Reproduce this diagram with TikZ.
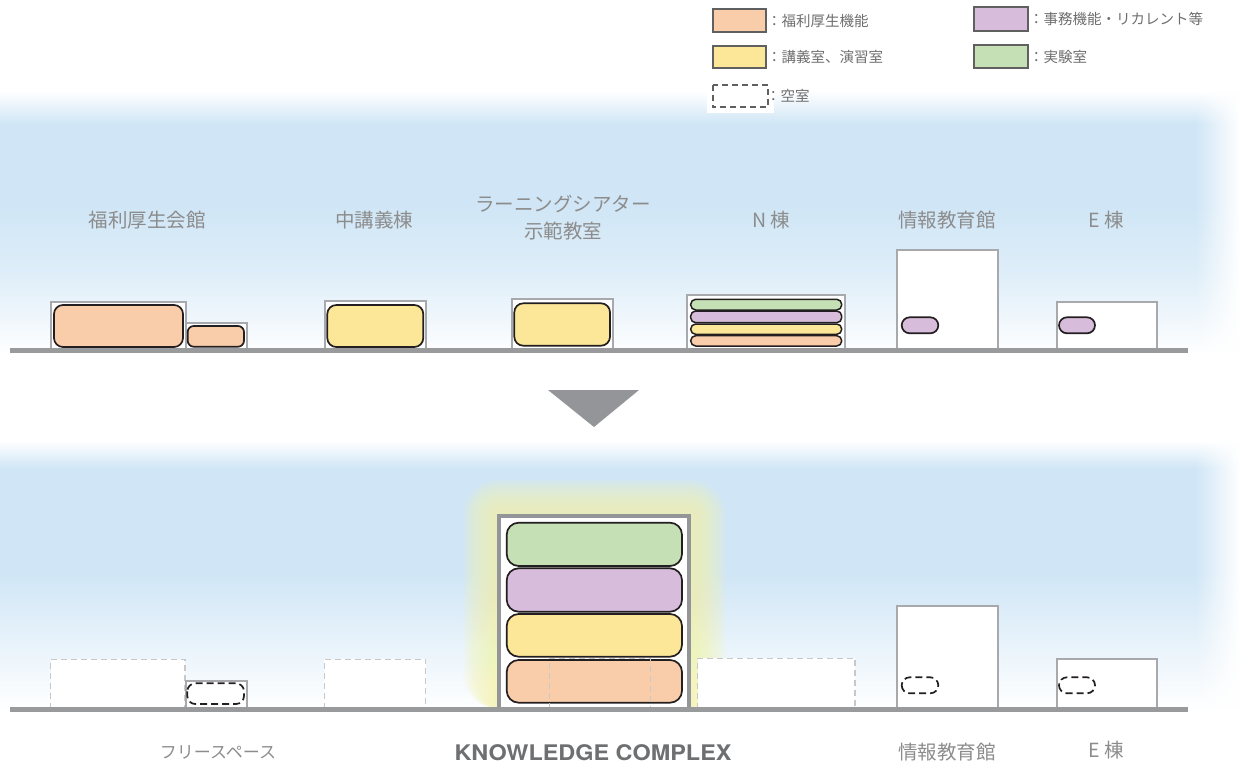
\documentclass[tikz,border=0pt]{standalone}
\usepackage{fontspec}
\newfontfamily\jp{Noto Sans CJK JP}
\newfontfamily\lat{TeX Gyre Heros}
\usetikzlibrary{fadings}
\definecolor{sky}{RGB}{208,230,246}
\definecolor{cOrange}{RGB}{249,204,170}
\definecolor{cYellow}{RGB}{252,230,151}
\definecolor{cPurple}{RGB}{215,189,219}
\definecolor{cGreen}{RGB}{197,224,181}
\definecolor{ink}{RGB}{35,31,32}
\definecolor{bgray}{RGB}{167,169,172}
\definecolor{ggray}{RGB}{153,154,156}
\definecolor{lgray}{RGB}{200,200,200}
\definecolor{tgray}{RGB}{140,140,140}
\definecolor{lgtext}{RGB}{110,110,110}
\definecolor{swgray}{RGB}{96,96,96}
\definecolor{glow}{RGB}{246,244,170}
\definecolor{kgray}{RGB}{147,149,152}
\definecolor{ktext}{RGB}{110,111,113}
\pgfdeclareverticalshading{skyA}{100bp}{color(0bp)=(white); color(25bp)=(white); color(30bp)=(sky!25); color(40bp)=(sky!70); color(52bp)=(sky); color(67bp)=(sky); color(73bp)=(white); color(100bp)=(white)}
\pgfdeclareverticalshading{skyB}{100bp}{color(0bp)=(white); color(25bp)=(white); color(29bp)=(sky!15); color(40bp)=(sky!60); color(50bp)=(sky); color(69bp)=(sky); color(74bp)=(white); color(100bp)=(white)}
\tikzfading[name=fadeToRight, left color=transparent!100, right color=transparent!0]
\tikzset{
  bldg/.style={draw=bgray, line width=2pt, fill=white},
  room/.style={draw=ink, line width=1.7pt, rounded corners=9pt},
  strip/.style={draw=ink, line width=1.5pt, rounded corners=5pt},
  pill/.style={draw=ink, line width=1.7pt, rounded corners=8pt},
  emptypill/.style={draw=ink, line width=1.7pt, rounded corners=8pt, dash pattern=on 7pt off 4pt},
  ghost/.style={draw=lgray, line width=1.5pt, dash pattern=on 6pt off 4pt},
  ground/.style={draw=ggray, line width=5pt},
  kcbldg/.style={draw=kgray, line width=4pt},
  swatch/.style={draw=swgray, line width=2pt},
  lbl/.style={font=\jp\fontsize{19.5}{21}\selectfont, text=tgray, inner sep=0pt},
  leg/.style={font=\jp\fontsize{14.5}{16}\selectfont, text=lgtext, anchor=west, inner sep=0pt},
}
\begin{document}
\begin{tikzpicture}[x=1pt,y=-1pt]
\useasboundingbox (0,0) rectangle (1253,769);
% sky bands
\shade[shading=skyA] (0,80) rectangle (1253,355);
\shade[shading=skyB] (0,435) rectangle (1253,712);
\fill[white, path fading=fadeToRight] (1195,70) rectangle (1240,720);
\fill[white] (1239,70) rectangle (1253,720);
% legend
\fill[white] (707,80) rectangle (774,113);
\draw[swatch, fill=cOrange] (712.7,9.3) rectangle (765.7,32.3);
\node[leg] (l1) at (767,21) {：福利厚生機能};
\draw[swatch, fill=cYellow] (712.7,45.7) rectangle (765.7,68.3);
\node[leg] (l2) at (767,57) {：講義室、演習室};
\draw[swatch, dashed, dash pattern=on 6pt off 4pt] (712.7,85) rectangle (768,107.3);
\node[leg] (l3) at (766,96) {：空室};
\draw[swatch, fill=cPurple] (974.3,7) rectangle (1028.3,31);
\node[leg] (l4) at (1029,19) {：事務機能・リカレント等};
\draw[swatch, fill=cGreen] (974.3,45) rectangle (1028.3,68.3);
\node[leg] (l5) at (1029,57) {：実験室};
% top labels
\node[lbl] (t1) at (147,220) {福利厚生会館};
\node[lbl] (t2) at (374,220) {中講義棟};
\node[lbl] (t3) at (563,204) {ラーニングシアター};
\node[lbl] (t3b) at (563,231) {示範教室};
\node[lbl] (t4) at (771,220) {N\hspace{4pt}棟};
\node[lbl] (t5) at (947,220) {情報教育館};
\node[lbl] (t6) at (1106,220) {E\hspace{4pt}棟};
% top buildings
\draw[bldg] (50.7,302) rectangle (185.7,349);
\draw[bldg] (185.7,322.7) rectangle (246.7,349);
\draw[room, fill=cOrange] (54,305) rectangle (183,347);
\draw[room, fill=cOrange, rounded corners=6pt] (187.7,326) rectangle (244,346.7);
\draw[bldg] (325,301.3) rectangle (426,349);
\draw[room, fill=cYellow] (327.3,305) rectangle (423.3,347);
\draw[bldg] (511.7,299.3) rectangle (613.3,349);
\draw[room, fill=cYellow] (514.3,303.3) rectangle (610,345.7);
\draw[bldg] (687.3,295.3) rectangle (845,349);
\draw[strip, fill=cGreen] (690.7,299.3) rectangle (841.7,310);
\draw[strip, fill=cPurple] (690.7,311) rectangle (841.7,322.7);
\draw[strip, fill=cYellow] (690.7,324) rectangle (841.7,334.3);
\draw[strip, fill=cOrange] (690.7,335.7) rectangle (841.7,346);
\draw[bldg] (897.3,250) rectangle (997.7,349);
\draw[pill, fill=cPurple] (901.7,317.3) rectangle (938.3,333.3);
\draw[bldg] (1056.7,301.7) rectangle (1156.7,349);
\draw[pill, fill=cPurple] (1059,317.3) rectangle (1095,333.3);
\draw[ground] (10,350) -- (1188,350);
% arrow triangle
\fill[kgray] (548,390) -- (639,390) -- (594,427) -- cycle;
% bottom
\draw[ghost, fill=white] (50.7,709) -- (50.7,659.3) -- (185,659.3) -- (185,709);
\draw[bldg] (185.7,680.7) rectangle (247.3,708);
\draw[emptypill] (187.3,683.3) rectangle (244,704);
\draw[ghost, fill=white] (324.3,709) -- (324.3,659.3) -- (425.7,659.3) -- (425.7,709);
\foreach \m in {3,6,...,36} {
  \fill[glow, opacity=0.11, rounded corners=\m pt] (499.3-\m,516-\m) rectangle (689.3+\m,709);
}
\draw[ghost, fill=white] (697.7,709) -- (697.7,658.3) -- (855,658.3) -- (855,709);
\fill[white] (499.3,516) rectangle (689.3,709);
\draw[kcbldg] (499.3,709) -- (499.3,516) -- (689.3,516) -- (689.3,709);
\draw[room, fill=cGreen, rounded corners=12pt] (506.7,522.7) rectangle (682,566);
\draw[room, fill=cPurple, rounded corners=12pt] (506.7,568.3) rectangle (682,611.7);
\draw[room, fill=cYellow, rounded corners=12pt] (506.7,614) rectangle (682,656.7);
\draw[room, fill=cOrange, rounded corners=12pt] (506.7,660) rectangle (682,702.7);
\draw[ghost] (549.3,709) -- (549.3,658.3) -- (650.7,658.3) -- (650.7,709);
\draw[bldg] (897.3,605.7) rectangle (997.7,708);
\draw[emptypill] (901.7,677.3) rectangle (938.3,693.3);
\draw[bldg] (1056.7,659.3) rectangle (1156.7,708);
\draw[emptypill] (1059,677.3) rectangle (1095,693.3);
\draw[ground] (10,709) -- (1188,709);
% bottom labels
\node[lbl, font=\jp\fontsize{17}{19}\selectfont] (b1) at (218,752) {フリースペース};
\node[inner sep=0pt, xscale=1.09, font=\lat\bfseries\fontsize{21.5}{23}\selectfont, text=ktext] (b2) at (593,753) {KNOWLEDGE COMPLEX};
\node[lbl] (b3) at (947,752) {情報教育館};
\node[lbl] (b4) at (1106,750) {E\hspace{4pt}棟};
\end{tikzpicture}
\end{document}
